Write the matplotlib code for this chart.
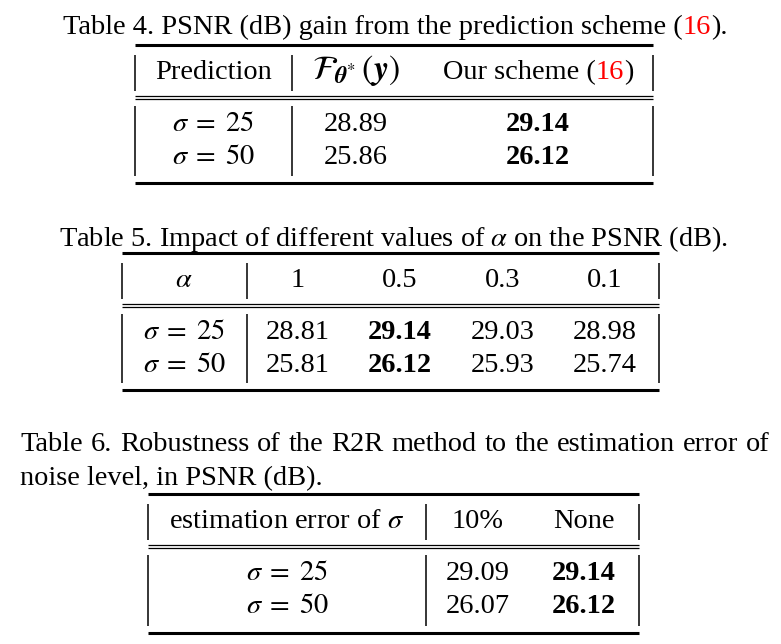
"""
Three small result tables (PSNR gains) redrawn with plain matplotlib
text and lines, in a LaTeX / Times look.
"""

import matplotlib
matplotlib.use("Agg")
import matplotlib.pyplot as plt

plt.rcParams["font.family"] = "Liberation Serif"
plt.rcParams["mathtext.fontset"] = "stix"

FS = 20.4
RED = "#ff0000"

# ---- data -----------------------------------------------------------------
T4_CAPTION = "Table 4. PSNR (dB) gain from the prediction scheme (16)."
T4_HEADER = ["Prediction", r"$\mathcal{F}_{\mathbfit{\theta}^{*}}\,(\mathbfit{y})$", "Our scheme (16)"]
T4_ROWS = [r"$\sigma\;=\;25$", r"$\sigma\;=\;50$"]
T4_VALUES = [[28.89, 29.14], [25.86, 26.12]]

T5_CAPTION = r"Table 5. Impact of different values of $\alpha$ on the PSNR (dB)."
T5_HEADER = [r"$\alpha$", "1", "0.5", "0.3", "0.1"]
T5_ROWS = [r"$\sigma\;=\;25$", r"$\sigma\;=\;50$"]
T5_VALUES = [[28.81, 29.14, 29.03, 28.98], [25.81, 26.12, 25.93, 25.74]]

T6_CAPTION = ["Table 6. Robustness of the R2R method to the estimation error of",
              "noise level, in PSNR (dB)."]
T6_HEADER = [r"estimation error of $\sigma$", "10%", "None"]
T6_ROWS = [r"$\sigma\;=\;25$", r"$\sigma\;=\;50$"]
T6_VALUES = [[29.09, 29.14], [26.07, 26.12]]

# ---- layout (pixel coordinates, y downwards) ------------------------------
T4_LAYOUT = dict(left=135, split=292, right=653, cols=[213, 356, 538],
                 top=44.5, head=79, dbl=95.5, rows=[130.5, 164], bottom=182.5)
T5_LAYOUT = dict(left=122, split=247, right=659, cols=[184, 298, 400, 503, 605],
                 top=253, head=287, dbl=303.5, rows=[339, 372], bottom=390)
T6_LAYOUT = dict(left=148, split=426, right=639, cols=[287, 478, 584],
                 top=494, head=528, dbl=545, rows=[580, 613], bottom=632.5)

fig = plt.figure(figsize=(7.81, 6.44), dpi=100)
ax = fig.add_axes([0, 0, 1, 1])
ax.set_xlim(0, 781)
ax.set_ylim(644, 0)
ax.axis("off")
renderer = fig.canvas.get_renderer()


def split_ref(s):
    """Split a string so that the equation reference (16) is red."""
    if "(16)" not in s:
        return [(s, "black")]
    before, after = s.split("(16)", 1)
    return [(before + "(", "black"), ("16", RED), (")" + after, "black")]


def draw_parts(x, y, parts, ha="center", weight="normal", size=FS):
    texts = [ax.text(0, y, s, color=c, fontsize=size, weight=weight,
                     ha="left", va="baseline") for s, c in parts]
    widths = [t.get_window_extent(renderer).width for t in texts]
    start = x - sum(widths) / 2 if ha == "center" else x
    for t, w in zip(texts, widths):
        t.set_x(start)
        start += w


def draw_justified(x0, x1, y, line):
    words = line.split(" ")
    texts = [ax.text(0, y, w, fontsize=FS, ha="left", va="baseline") for w in words]
    widths = [t.get_window_extent(renderer).width for t in texts]
    gap = (x1 - x0 - sum(widths)) / (len(words) - 1)
    pos = x0
    for t, w in zip(texts, widths):
        t.set_x(pos)
        pos += w + gap


def draw_table(header, rows, values, lay):
    l, r, m = lay["left"], lay["right"], lay["split"]
    ax.plot([l, r], [lay["top"], lay["top"]], color="black", lw=2.2, solid_capstyle="butt")
    ax.plot([l, r], [lay["bottom"], lay["bottom"]], color="black", lw=2.2, solid_capstyle="butt")
    for dy in (0, 3):
        y = lay["dbl"] + dy
        ax.plot([l, r], [y, y], color="black", lw=0.9, solid_capstyle="butt")
    # vertical bars, header block and body block
    head_span = (lay["top"] + 10, lay["dbl"] - 5)
    body_span = (lay["dbl"] + 10, lay["bottom"] - 7)
    for xb in (l, m, r):
        for y0, y1 in (head_span, body_span):
            ax.plot([xb, xb], [y0, y1], color="black", lw=1.1, solid_capstyle="butt")

    for x, label in zip(lay["cols"], header):
        # the network-output symbol is set a bit larger, like the TeX original
        size = FS * 1.2 if label.startswith(r"$\mathcal") else FS
        draw_parts(x, lay["head"], split_ref(label), size=size)
    for y, row_label, row_vals in zip(lay["rows"], rows, values):
        draw_parts(lay["cols"][0], y, [(row_label, "black")])
        best = max(row_vals)
        for x, v in zip(lay["cols"][1:], row_vals):
            draw_parts(x, y, [(f"{v:.2f}", "black")],
                       weight="bold" if v == best else "normal")


# captions
draw_parts(395, 34, split_ref(T4_CAPTION))
draw_parts(394, 246, [(T5_CAPTION, "black")])
draw_justified(20, 770, 451, T6_CAPTION[0])
draw_parts(20, 485, [(T6_CAPTION[1], "black")], ha="left")

draw_table(T4_HEADER, T4_ROWS, T4_VALUES, T4_LAYOUT)
draw_table(T5_HEADER, T5_ROWS, T5_VALUES, T5_LAYOUT)
draw_table(T6_HEADER, T6_ROWS, T6_VALUES, T6_LAYOUT)

fig.savefig("out.png", dpi=100)
